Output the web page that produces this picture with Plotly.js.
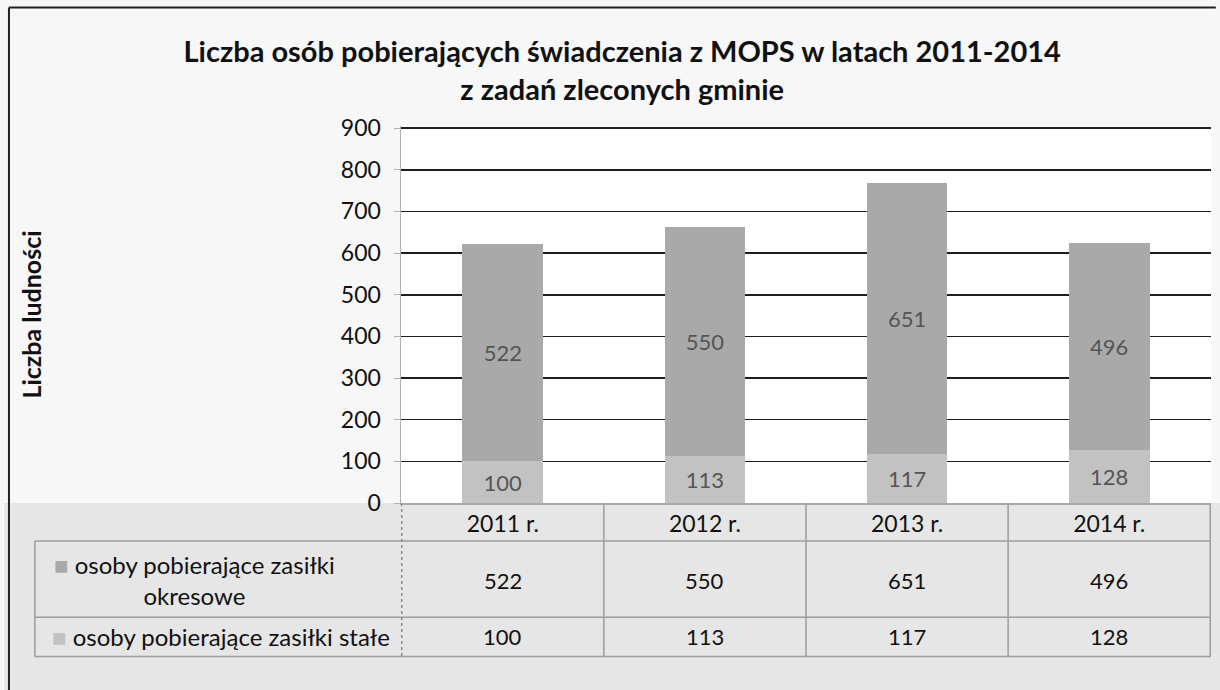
<!DOCTYPE html>
<html>
<head>
<meta charset="utf-8">
<script src="https://cdn.plot.ly/plotly-3.0.1.min.js"></script>
<style>html,body{margin:0;padding:0;background:#f4f4f4;}#chart{width:1220px;height:690px;}</style>
</head>
<body>
<div id="chart"></div>
<script>
// ---- data ----
const years = ['2011 r.', '2012 r.', '2013 r.', '2014 r.'];
const zasilkiStale = [100, 113, 117, 128];
const zasilkiOkresowe = [522, 550, 651, 496];
const nameOkresowe = 'osoby pobierające zasiłki okresowe';
const nameStale = 'osoby pobierające zasiłki stałe';
const yTicks = [0, 100, 200, 300, 400, 500, 600, 700, 800, 900];

const colStale = '#c2c2c2';
const colOkresowe = '#a9a9a9';
const FONT = 'Lato, "Open Sans", sans-serif';

const traces = [
  {
    type: 'bar', name: nameStale, x: years, y: zasilkiStale,
    marker: {color: colStale},
    text: zasilkiStale.map(String), textposition: 'inside', insidetextanchor: 'middle',
    textfont: {size: 22, color: '#555555', family: FONT}, constraintext: 'none',
    hoverinfo: 'x+y+name'
  },
  {
    type: 'bar', name: nameOkresowe, x: years, y: zasilkiOkresowe,
    marker: {color: colOkresowe},
    text: zasilkiOkresowe.map(String), textposition: 'inside', insidetextanchor: 'middle',
    textfont: {size: 22, color: '#555555', family: FONT}, constraintext: 'none',
    hoverinfo: 'x+y+name'
  }
];

// table geometry (paper coords below the plot)
const rowTop = -0.101, rowMid = -0.303, rowBot = -0.407;
const labelLeft = -0.452;
const lineCol = '#9c9c9c';
const shapes = [];
// grey backdrop behind table
shapes.push({type: 'rect', xref: 'paper', yref: 'paper', x0: -0.49, x1: 1.02, y0: 0, y1: -0.6,
  fillcolor: '#e6e6e6', line: {width: 0}, layer: 'below'});
// horizontal lines
[rowTop, rowMid, rowBot].forEach(y => shapes.push({type: 'line', xref: 'paper', yref: 'paper',
  x0: labelLeft, x1: 1, y0: y, y1: y, line: {color: lineCol, width: 1.5}}));
// vertical column lines (category boundaries)
for (let i = 0; i <= years.length; i++) {
  shapes.push({type: 'line', xref: 'x', yref: 'paper', x0: i - 0.5, x1: i - 0.5, y0: 0, y1: rowBot,
    line: {color: i === 0 ? '#8a8a8a' : lineCol, width: 1.5, dash: i === 0 ? 'dot' : 'solid'}});
}
shapes.push({type: 'line', xref: 'paper', yref: 'paper', x0: labelLeft, x1: labelLeft, y0: rowTop, y1: rowBot,
  line: {color: lineCol, width: 1.5}});
// outer chart border (left and top edges visible in the scan)
shapes.push({type: 'line', xref: 'paper', yref: 'paper', x0: -0.484, x1: -0.484, y0: -0.6, y1: 1.314,
  line: {color: '#222', width: 2}});
shapes.push({type: 'line', xref: 'paper', yref: 'paper', x0: -0.484, x1: 1.006, y0: 1.314, y1: 1.314,
  line: {color: '#222', width: 2}});

const annotations = [];
years.forEach((yr, i) => {
  annotations.push({xref: 'x', yref: 'paper', x: yr, y: -0.205, text: String(zasilkiOkresowe[i]),
    showarrow: false, font: {size: 22, color: '#111', family: FONT}, xanchor: 'center', yanchor: 'middle'});
  annotations.push({xref: 'x', yref: 'paper', x: yr, y: -0.354, text: String(zasilkiStale[i]),
    showarrow: false, font: {size: 22, color: '#111', family: FONT}, xanchor: 'center', yanchor: 'middle'});
});
const key = c => '<span style="color:' + c + '">■</span> ';
annotations.push({xref: 'paper', yref: 'paper', x: -0.255, y: -0.205,
  text: key(colOkresowe) + 'osoby pobierające zasiłki<br>okresowe', align: 'center',
  showarrow: false, font: {size: 24, color: '#111', family: FONT}, xanchor: 'center', yanchor: 'middle'});
annotations.push({xref: 'paper', yref: 'paper', x: -0.222, y: -0.354,
  text: key(colStale) + nameStale, align: 'center',
  showarrow: false, font: {size: 24, color: '#111', family: FONT}, xanchor: 'center', yanchor: 'middle'});

const layout = {
  width: 1220, height: 690,
  margin: {l: 401, r: 9, t: 126, b: 187, pad: 0},
  paper_bgcolor: '#f7f7f7', plot_bgcolor: '#ffffff',
  barmode: 'stack', bargap: 0.6,
  showlegend: false,
  font: {family: FONT, color: '#111'},
  title: {
    text: '<b>Liczba osób pobierających świadczenia z MOPS w latach 2011-2014<br>z zadań zleconych gminie</b>',
    font: {size: 29, color: '#111', family: FONT},
    x: 0.51, xanchor: 'center', y: 0.91, yanchor: 'top'
  },
  xaxis: {
    type: 'category', categoryorder: 'array', categoryarray: years,
    showline: true, linecolor: '#a8a8a8', linewidth: 1.5,
    ticks: '', tickfont: {size: 23, color: '#111', family: FONT},
    showgrid: false, fixedrange: true
  },
  yaxis: {
    range: [0, 905], tickvals: yTicks, ticktext: yTicks.map(String),
    showgrid: true, gridcolor: '#1e1e1e', gridwidth: 1.6,
    showline: true, linecolor: '#b0b0b0', linewidth: 1.5,
    ticks: 'outside', ticklen: 6, tickcolor: '#b0b0b0', ticklabelstandoff: 8,
    tickfont: {size: 23, color: '#111', family: FONT},
    zeroline: false, fixedrange: true,
    title: {text: '<b>Liczba ludności</b>', font: {size: 25, color: '#111', family: FONT}, standoff: 292}
  },
  shapes: shapes,
  annotations: annotations
};

Plotly.newPlot('chart', traces, layout, {displayModeBar: false, staticPlot: true});
</script>
</body>
</html>
